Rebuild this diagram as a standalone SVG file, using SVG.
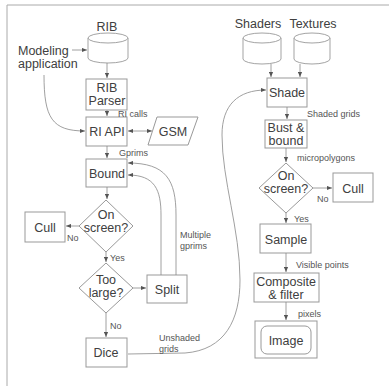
<svg xmlns="http://www.w3.org/2000/svg" width="389" height="386" viewBox="0 0 389 386">
<style>
  .box{fill:#fff;stroke:#999;stroke-width:1}
  .cyl{fill:#fff;stroke:#999;stroke-width:0.9}
  .t{font-family:"Liberation Sans",Arial,sans-serif;font-size:12.5px;fill:#404040;text-anchor:middle}
  .s{font-family:"Liberation Sans",Arial,sans-serif;font-size:9px;fill:#555}
  .c{fill:none;stroke:#888;stroke-width:0.8}
</style>
<defs>
  <marker id="ah" viewBox="0 0 6 6" refX="6" refY="3" markerWidth="5" markerHeight="5" orient="auto-start-reverse" markerUnits="userSpaceOnUse">
    <path d="M0,0.5 L6,3 L0,5.5 Z" fill="#555"/>
  </marker>
</defs>
<rect width="389" height="386" fill="#fff"/>
<path d="M7,386 L7,5 L389,5" fill="none" stroke="#aaa" stroke-width="1"/>

<g id="rib">
  <path class="cyl" d="M88,38 A20,5 0 0,1 128,38 L128,58 A20,5 0 0,1 88,58 Z"/>
  <path class="cyl" d="M88,38 A20,5 0 0,0 128,38"/>
  <text class="t" x="107" y="31">RIB</text>
</g>
<g id="modeling">
  <text class="t" x="18" y="55" style="text-anchor:start">Modeling</text>
  <text class="t" x="18" y="68" style="text-anchor:start">application</text>
</g>
<g id="ribparser">
  <rect class="box" x="86" y="79" width="41" height="31"/>
  <text class="t" x="107" y="92">RIB</text>
  <text class="t" x="107" y="105">Parser</text>
</g>
<g id="riapi">
  <rect class="box" x="86" y="117" width="41" height="29"/>
  <text class="t" x="107" y="136">RI API</text>
</g>
<g id="gsm">
  <polygon class="box" points="157,117 198,117 188,145 148,145"/>
  <text class="t" x="173" y="136">GSM</text>
</g>
<g id="bound">
  <rect class="box" x="86" y="159" width="41" height="28"/>
  <text class="t" x="107" y="178">Bound</text>
</g>
<g id="onscreen1">
  <polygon class="box" points="106,200 133,226 106,252 79,226"/>
  <text class="t" x="106" y="219">On</text>
  <text class="t" x="106" y="232">screen?</text>
</g>
<g id="cull1">
  <rect class="box" x="25" y="212" width="40" height="30"/>
  <text class="t" x="45" y="232">Cull</text>
</g>
<g id="toolarge">
  <polygon class="box" points="106,263 133,288 106,313 79,288"/>
  <text class="t" x="106" y="284">Too</text>
  <text class="t" x="106" y="297">large?</text>
</g>
<g id="split">
  <rect class="box" x="147" y="275" width="40" height="28"/>
  <text class="t" x="167" y="294">Split</text>
</g>
<g id="dice">
  <rect class="box" x="86" y="338" width="41" height="29"/>
  <text class="t" x="106" y="357">Dice</text>
</g>

<g id="shaders">
  <path class="cyl" d="M243,38 A19,5 0 0,1 281,38 L281,59 A19,5 0 0,1 243,59 Z"/>
  <path class="cyl" d="M243,38 A19,5 0 0,0 281,38"/>
  <text class="t" x="258" y="28">Shaders</text>
</g>
<g id="textures">
  <path class="cyl" d="M294,38 A18,5 0 0,1 330,38 L330,59 A18,5 0 0,1 294,59 Z"/>
  <path class="cyl" d="M294,38 A18,5 0 0,0 330,38"/>
  <text class="t" x="313" y="28">Textures</text>
</g>
<g id="shade">
  <rect class="box" x="267" y="78" width="40" height="29"/>
  <text class="t" x="287" y="97">Shade</text>
</g>
<g id="bust">
  <rect class="box" x="265" y="120" width="42" height="28"/>
  <text class="t" x="286" y="132">Bust &amp;</text>
  <text class="t" x="286" y="145">bound</text>
</g>
<g id="onscreen2">
  <polygon class="box" points="286,163 313,188 286,213 259,188"/>
  <text class="t" x="286" y="180">On</text>
  <text class="t" x="286" y="193">screen?</text>
</g>
<g id="cull2">
  <rect class="box" x="333" y="173" width="40" height="29"/>
  <text class="t" x="353" y="193">Cull</text>
</g>
<g id="sample">
  <rect class="box" x="260" y="224" width="51" height="29"/>
  <text class="t" x="286" y="244">Sample</text>
</g>
<g id="composite">
  <rect class="box" x="254" y="273" width="65" height="29"/>
  <text class="t" x="286" y="286">Composite</text>
  <text class="t" x="286" y="299">&amp; filter</text>
</g>
<g id="image">
  <rect class="box" x="255" y="321" width="62" height="37"/>
  <rect class="box" x="261" y="326" width="50" height="28" rx="6"/>
  <text class="t" x="286" y="345">Image</text>
</g>

<g id="connectors">
  <path class="c" d="M72,50 L87,50" marker-end="url(#ah)"/>
  <path class="c" d="M107,63 L107,78" marker-end="url(#ah)"/>
  <path class="c" d="M107,110 L107,116" marker-end="url(#ah)"/>
  <path class="c" d="M44,75 C44,118 52,131 85,131" marker-end="url(#ah)"/>
  <path class="c" d="M128,131 L152,131" marker-start="url(#ah)" marker-end="url(#ah)"/>
  <path class="c" d="M107,146 L107,158" marker-end="url(#ah)"/>
  <path class="c" d="M107,187 L107,199" marker-end="url(#ah)"/>
  <path class="c" d="M79,226 L66,226" marker-end="url(#ah)"/>
  <path class="c" d="M106,252 L106,262" marker-end="url(#ah)"/>
  <path class="c" d="M133,288 L146,288" marker-end="url(#ah)"/>
  <path class="c" d="M106,313 L106,337" marker-end="url(#ah)"/>
  <path class="c" d="M176,275 L176,215 C176,180 166,163 128,163" marker-end="url(#ah)"/>
  <path class="c" d="M161,275 L161,215 C161,190 155,175 128,175" marker-end="url(#ah)"/>
  <path class="c" d="M128,354 L185,353 C225,350 240,320 240,280 C240,230 222,180 222,135 C222,105 238,90 266,90" marker-end="url(#ah)"/>
  <path class="c" d="M271,64 L271,77" marker-end="url(#ah)"/>
  <path class="c" d="M300,64 L300,77" marker-end="url(#ah)"/>
  <path class="c" d="M287,107 L287,119" marker-end="url(#ah)"/>
  <path class="c" d="M286,148 L286,162" marker-end="url(#ah)"/>
  <path class="c" d="M313,188 L332,188" marker-end="url(#ah)"/>
  <path class="c" d="M286,213 L286,223" marker-end="url(#ah)"/>
  <path class="c" d="M286,253 L286,272" marker-end="url(#ah)"/>
  <path class="c" d="M286,302 L286,320" marker-end="url(#ah)"/>

  <text class="s" x="118" y="117">RI calls</text>
  <text class="s" x="119" y="156">Gprims</text>
  <text class="s" x="67" y="241">No</text>
  <text class="s" x="110" y="261">Yes</text>
  <text class="s" x="110" y="329">No</text>
  <text class="s" x="180" y="238">Multiple</text>
  <text class="s" x="180" y="249">gprims</text>
  <text class="s" x="159" y="341">Unshaded</text>
  <text class="s" x="159" y="352">grids</text>
  <text class="s" x="307" y="117">Shaded grids</text>
  <text class="s" x="297" y="161">micropolygons</text>
  <text class="s" x="317" y="202">No</text>
  <text class="s" x="294" y="222">Yes</text>
  <text class="s" x="296" y="268">Visible points</text>
  <text class="s" x="298" y="317">pixels</text>
</g>
</svg>
